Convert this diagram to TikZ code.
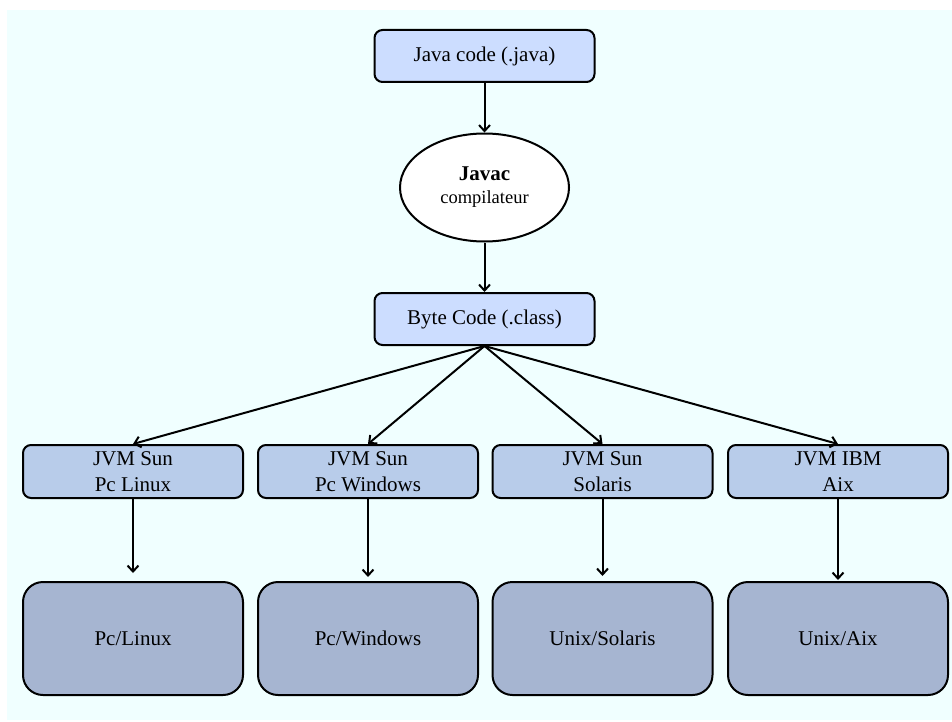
\documentclass[tikz,border=0pt]{standalone}
\usepackage{fontspec}
\setmainfont{Liberation Serif}
\usetikzlibrary{shapes.geometric,arrows.meta}
\definecolor{bgc}{HTML}{F0FFFF}
\definecolor{topc}{HTML}{CCDDFF}
\definecolor{jvmc}{HTML}{B8CCEA}
\definecolor{osc}{HTML}{A6B5D1}
\tikzset{
  box/.style={draw=black, line width=2pt, rounded corners=8pt, inner sep=0pt, align=center,
    minimum width=220pt, font=\fontsize{21}{26.5}\selectfont},
  topbox/.style={box, fill=topc, minimum height=52pt},
  jvmbox/.style={box, fill=jvmc, minimum height=53pt},
  osbox/.style={box, fill=osc, minimum height=113pt, rounded corners=20pt},
  oval/.style={ellipse, draw=black, line width=2pt, fill=white, minimum width=169pt, minimum height=108pt,
    inner sep=0pt, align=center, font=\fontsize{21}{23}\selectfont},
  arr/.style={line width=2pt, -{Straight Barb[length=6pt,width=11pt]}}
}
\begin{document}
\begin{tikzpicture}[x=1pt,y=-1pt]
\useasboundingbox (0,0) rectangle (952,722);
\fill[white] (0,0) rectangle (952,722);
\fill[bgc] (7,10) rectangle (952,720);
\node[topbox] (java) at (484.5,56) {Java code (.java)};
\node[oval] (javac) at (484.5,187.5) {\textbf{Javac}\\{\fontsize{18.5}{23}\selectfont compilateur}};
\node[topbox] (byte) at (484.5,319) {Byte Code (.class)};
\node[jvmbox] (j1) at (133,471.5) {JVM Sun\\Pc Linux};
\node[jvmbox] (j2) at (368,471.5) {JVM Sun\\Pc Windows};
\node[jvmbox] (j3) at (602.5,471.5) {JVM Sun\\Solaris};
\node[jvmbox] (j4) at (838,471.5) {JVM IBM\\Aix};
\node[osbox] (o1) at (133,638.5) {Pc/Linux};
\node[osbox] (o2) at (368,638.5) {Pc/Windows};
\node[osbox] (o3) at (602.5,638.5) {Unix/Solaris};
\node[osbox] (o4) at (838,638.5) {Unix/Aix};
\draw[arr] (java) -- (javac);
\draw[arr] (javac) -- (byte);
\foreach \j in {j1,j2,j3,j4} \draw[arr] (byte.south) -- (\j.north);
\draw[arr, shorten >=8pt] (j1) -- (o1);
\draw[arr, shorten >=4pt] (j2) -- (o2);
\draw[arr, shorten >=5pt] (j3) -- (o3);
\draw[arr, shorten >=1pt] (j4) -- (o4);
\end{tikzpicture}
\end{document}
